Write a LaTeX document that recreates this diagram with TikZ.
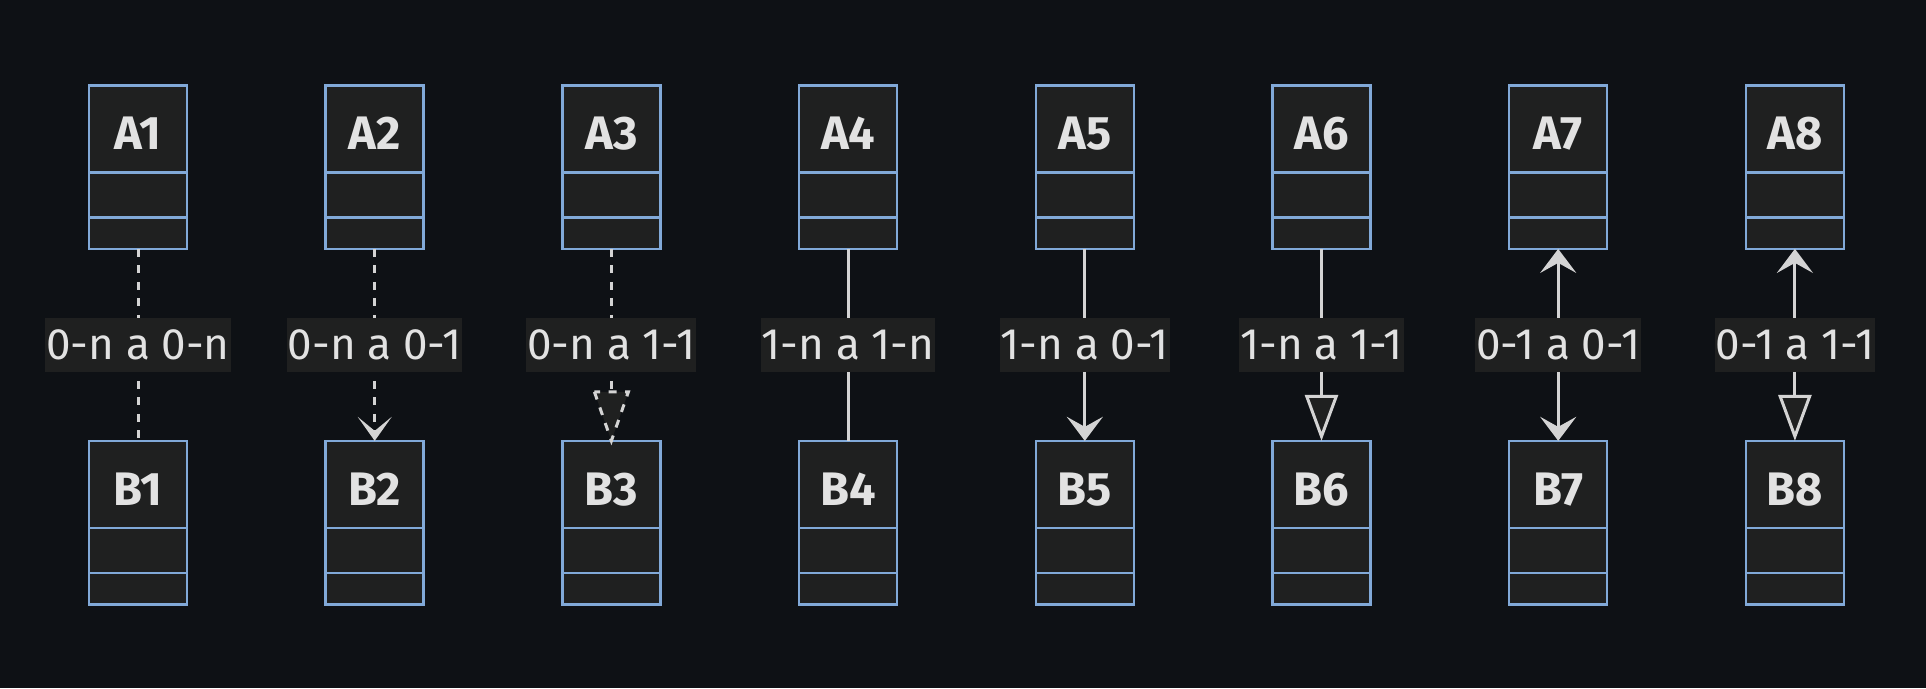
\documentclass[tikz,border=0pt]{standalone}
\usepackage{fontspec}
\setmainfont{Fira Sans}
\usetikzlibrary{arrows.meta,calc}
\definecolor{bg}{HTML}{0E1115}
\definecolor{boxfill}{HTML}{1F2020}
\definecolor{boxline}{HTML}{81A9D8}
\definecolor{edgecol}{HTML}{D4D4D4}
\definecolor{txt}{HTML}{E2E2E2}
\definecolor{lblbg}{HTML}{1F2020}
\begin{document}
\begin{tikzpicture}[x=1pt,y=-1pt,
  classbox/.style={rectangle, draw=boxline, fill=boxfill, line width=2.5pt,
    minimum width=98pt, minimum height=163.5pt, inner sep=0pt, outer sep=0pt},
  divider/.style={draw=boxline, line width=2.5pt},
  titletxt/.style={text=txt, font=\fontsize{47}{52}\selectfont\bfseries, anchor=base, inner sep=0pt},
  edge/.style={draw=edgecol, line width=3pt},
  dashedge/.style={edge, dash pattern=on 8pt off 8.5pt},
  lbl/.style={fill=lblbg, text=txt, font=\fontsize{44}{50}\selectfont,
    inner xsep=1pt, inner ysep=0pt, minimum height=53.6pt},
  AssocV/.tip={Stealth[length=24pt, width=36pt, inset=10pt]},
  DepBarb/.tip={Stealth[length=24pt, width=34pt, inset=14pt]},
  InhT/.tip={Triangle[length=46pt, width=33pt, fill=boxfill]}
]
\fill[bg] (0,0) rectangle (1926,688);
\useasboundingbox (0,0) rectangle (1926,688);

\foreach \i in {1,...,8}{
  \pgfmathsetmacro\cx{138+236.7*(\i-1)}
  \node[classbox] (A\i) at (\cx,167.15) {};
  \node[classbox] (B\i) at (\cx,522.6) {};
  \foreach \n in {A,B}{
    \draw[divider] ($(\n\i.north west)+(0,87.3)$) -- ($(\n\i.north east)+(0,87.3)$);
    \draw[divider] ($(\n\i.north west)+(0,131.9)$) -- ($(\n\i.north east)+(0,131.9)$);
    \node[titletxt] at ($(\n\i.north)+(0,64.5)$) {\n\i};
  }
}

% connectors
\draw[dashedge] (A1.south) -- (B1.north);
\draw[dashedge, -{DepBarb}] (A2.south) -- (B2.north);
\coordinate (T3) at ($(B3.north)+(0,-49)$);
\draw[dashedge] (A3.south) -- (T3);
\draw[dashedge, fill=boxfill, line join=miter] ($(B3.north)+(-17,-49)$) -- (B3.north) -- ($(B3.north)+(17,-49)$) -- cycle;
\draw[edge] (A4.south) -- (B4.north);
\draw[edge, -{AssocV}] (A5.south) -- (B5.north);
\draw[edge, -{InhT}] (A6.south) -- (B6.north);
\draw[edge, {AssocV}-{AssocV}] (A7.south) -- (B7.north);
\draw[edge, {AssocV}-{InhT}] (A8.south) -- (B8.north);

% labels
\foreach \i/\lab in {1/{0-n a 0-n},2/{0-n a 0-1},3/{0-n a 1-1},4/{1-n a 1-n},
                     5/{1-n a 0-1},6/{1-n a 1-1},7/{0-1 a 0-1},8/{0-1 a 1-1}}{
  \node[lbl] (L\i) at ($(A\i.south)!.5!(B\i.north)$) {\lab};
}
\end{tikzpicture}
\end{document}
